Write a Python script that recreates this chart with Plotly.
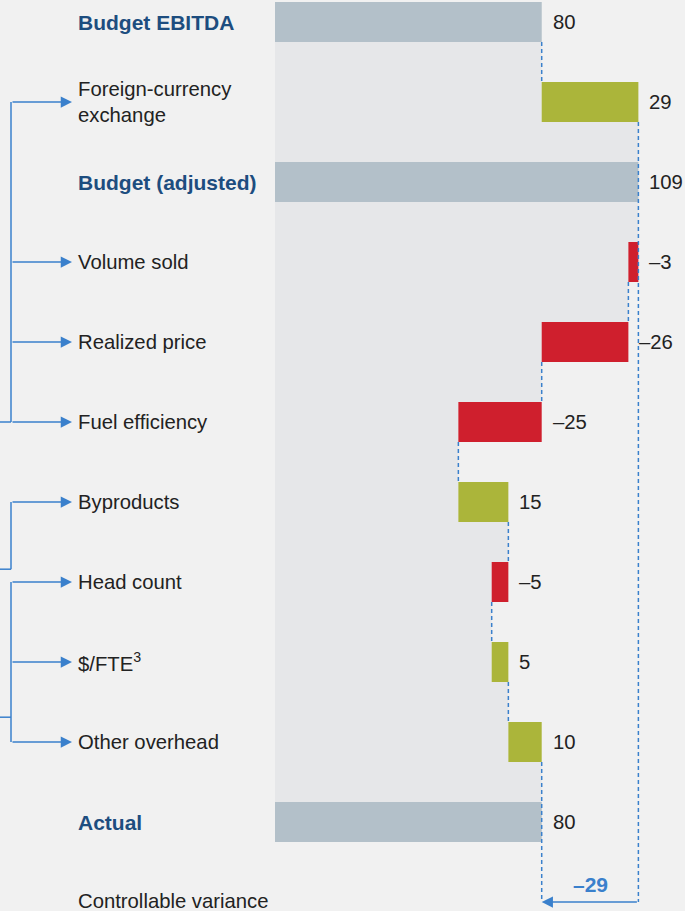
import plotly.graph_objects as go

# ---------------- data ----------------
categories = ["Budget EBITDA", "Foreign-currency<br>exchange", "Budget (adjusted)",
              "Volume sold", "Realized price", "Fuel efficiency", "Byproducts",
              "Head count", "$/FTE<sup>3</sup>", "Other overhead", "Actual"]
values = [80, 29, 109, -3, -26, -25, 15, -5, 5, 10, 80]
measures = ["total", "delta", "total", "delta", "delta", "delta", "delta",
            "delta", "delta", "delta", "total"]
variance_label = "Controllable variance"
bracket_groups = [[1, 3, 4, 5], [6], [7, 8, 9]]

# ---------------- styles ----------------
W, H = 685, 911
BG = "#f1f1f1"
PANEL = "#e6e7e9"
GRAY = "#b3c0c9"
GREEN = "#abb53a"
RED = "#cf1f2d"
BLUE = "#3a80cc"
NAVY = "#1d4d7f"
TXT = "#222222"
FONT = "Liberation Sans, Arial, Helvetica, sans-serif"
HALF = 0.25  # half bar thickness in row units

def fmt(v):
    return ("\u2013" + str(abs(v))) if v < 0 else str(v)

# running totals
starts, ends = [], []
run = 0
for v, m in zip(values, measures):
    if m == "total":
        s, e = 0, v
    else:
        s, e = run, run + v
    starts.append(s)
    ends.append(e)
    run = e

rows = list(range(len(categories)))
var_row = len(categories)
last = rows[-1]
adj_idx = 2
colors = [GRAY if m == "total" else (GREEN if v > 0 else RED) for v, m in zip(values, measures)]

fig = go.Figure()

# bars
fig.add_trace(go.Bar(
    y=rows, x=[e - s for s, e in zip(starts, ends)], base=starts,
    orientation="h", width=2 * HALF, marker=dict(color=colors, line=dict(width=0)),
    hoverinfo="skip", showlegend=False))

# shaded area under running total (shape path built from data)
pts = []
for i in rows:
    m = ends[i] if measures[i] == "total" else min(starts[i], ends[i])
    pts.append((m, i - HALF))
    pts.append((m, i + HALF))
    if i < last:
        pts.append((ends[i], i + HALF))
        pts.append((ends[i], i + 1 - HALF))
path = "M0,%s " % (rows[0] - HALF)
path += " ".join("L%s,%s" % (x, y) for x, y in pts)
path += " L0,%s Z" % (last + HALF)
shapes = [dict(type="path", path=path, xref="x", yref="y", layer="below",
               fillcolor=PANEL, line=dict(width=0))]

# connectors (skip those covered by the long variance lines)
cx, cy = [], []
for i in rows[:-1]:
    if ends[i] == ends[adj_idx] and i >= adj_idx - 1:
        continue
    if ends[i] == ends[last] and i >= last - 1:
        continue
    cx += [ends[i], ends[i], None]
    cy += [i + HALF, i + 1 - HALF, None]
cx += [ends[adj_idx], ends[adj_idx], None]
cy += [adj_idx - 1 + HALF, var_row, None]
cx += [ends[last], ends[last], None]
cy += [last - 1 + HALF, var_row, None]
fig.add_trace(go.Scatter(x=cx, y=cy, mode="lines",
                         line=dict(color=BLUE, width=1.5, dash="4px,3px"),
                         hoverinfo="skip", showlegend=False))

annotations = []
# category labels
for i, c in enumerate(categories):
    bold = measures[i] == "total"
    annotations.append(dict(
        x=78 / W, xref="paper", y=i, yref="y", xanchor="left", yanchor="middle",
        xshift=-2, text=("<b>%s</b>" % c) if bold else c, showarrow=False, align="left",
        font=dict(family=FONT, size=21 if bold else 20.3, color=NAVY if bold else TXT)))
annotations.append(dict(
    x=78 / W, xref="paper", y=var_row, yref="y", xanchor="left", yanchor="middle",
    xshift=-2, yshift=1, text=variance_label, showarrow=False,
    font=dict(family=FONT, size=20.3, color=TXT)))

# value labels
for i, v in enumerate(values):
    annotations.append(dict(
        x=max(starts[i], ends[i]), y=i, xref="x", yref="y", xanchor="left",
        yanchor="middle", xshift=9, text=fmt(v), showarrow=False,
        font=dict(family=FONT, size=20.3, color=TXT)))

# variance arrow and label
variance = ends[last] - ends[adj_idx]
annotations.append(dict(
    x=ends[last], y=var_row, ax=ends[adj_idx], ay=var_row, xref="x", yref="y",
    axref="x", ayref="y", text="", showarrow=True, arrowhead=2, arrowsize=1.5,
    arrowwidth=1.5, arrowcolor=BLUE, standoff=0, startstandoff=0))
annotations.append(dict(
    x=(ends[last] + ends[adj_idx]) / 2, y=var_row, xref="x", yref="y", yshift=18,
    text="<b>%s</b>" % fmt(variance), showarrow=False,
    font=dict(family=FONT, size=21, color=BLUE)))

# left brackets
bx = 11 / W
stub_rows = [5, 6.84, 8.69]
for g, sy in zip(bracket_groups, stub_rows):
    top, bot = min(g), max(g)
    shapes.append(dict(type="line", xref="paper", yref="y", x0=bx, x1=bx,
                       y0=top, y1=max(bot, sy), line=dict(color=BLUE, width=1.5)))
    shapes.append(dict(type="line", xref="paper", yref="y", x0=0, x1=bx,
                       y0=sy, y1=sy, line=dict(color=BLUE, width=1.5)))
    for r in g:
        annotations.append(dict(
            x=72 / W, xref="paper", y=r, yref="y", ax=-61, ay=0, text="",
            showarrow=True, arrowhead=2, arrowsize=1.5, arrowwidth=1.5,
            arrowcolor=BLUE, standoff=0))

px_per_unit = (541.7 - 275) / 80
fig.update_layout(
    width=W, height=H, margin=dict(l=0, r=0, t=0, b=0),
    paper_bgcolor=BG, plot_bgcolor=BG, barmode="overlay",
    xaxis=dict(range=[-275 / px_per_unit, (W - 275) / px_per_unit], visible=False,
               fixedrange=True),
    yaxis=dict(range=[(H - 22) / 80, -22 / 80], visible=False, fixedrange=True),
    shapes=shapes, annotations=annotations, showlegend=False,
)

fig.write_html("out.html", config={"displayModeBar": False},
               post_script="document.body.style.margin='0';document.body.style.overflow='hidden';")
